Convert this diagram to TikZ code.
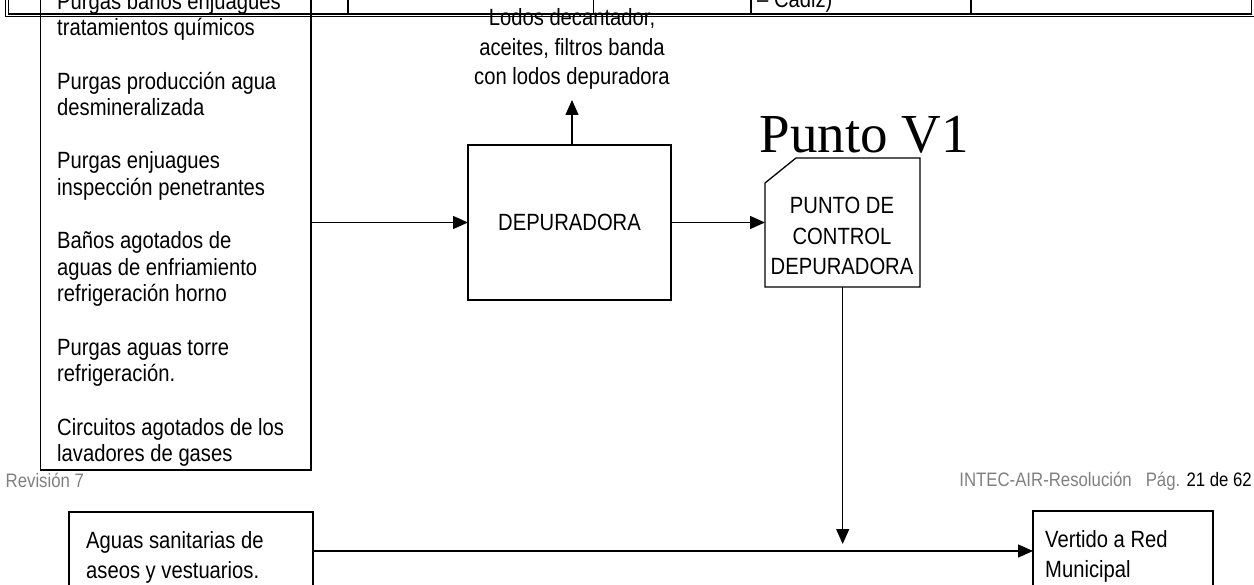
\documentclass[tikz,border=0pt]{standalone}
\usepackage{fontspec}
\setmainfont[FakeStretch=0.86]{Liberation Sans}
\newfontfamily\serifbig{Liberation Serif}
\usetikzlibrary{arrows.meta}
\definecolor{footgray}{RGB}{128,128,128}
\tikzset{
  boxline/.style={draw=black, line width=1.3pt},
  tableline/.style={line width=1.5pt},
  conn/.style={line width=1.3pt, -{Triangle[length=15pt,width=13pt]}},
  txt/.style={inner sep=0pt, font=\fontsize{23.5}{30}\selectfont},
  foot/.style={inner sep=0pt, font=\fontsize{19.5}{24}\selectfont, text=footgray},
  frame/.style={rectangle, inner sep=0pt, outer sep=0pt},
}
\begin{document}
\begin{tikzpicture}[x=1pt,y=-1pt]
\useasboundingbox (0,0) rectangle (1254,585);

% table fragment at top
\draw[tableline] (5.3,-5) -- (5.3,16.5) -- (1260,16.5);
\draw[tableline] (8.3,-5) -- (8.3,13.9) -- (1251.7,13.9) -- (1251.7,-5);
\foreach \cx in {348,593.5,751,971} \draw[tableline] (\cx,-5) -- (\cx,13.9);
\node[txt, anchor=base west] (cadiz) at (757,8) {– Cadiz)};

% left source box
\node[frame, boxline, minimum width=270.3pt, minimum height=480pt] (src) at (175.85,230) {};
\foreach \t/\k [count=\i] in {Purgas baños enjuagues/0, tratamientos químicos/1, Purgas producción agua/3, desmineralizada/4, Purgas enjuagues/6, inspección penetrantes/7, Baños agotados de/9, aguas de enfriamiento/10, refrigeración horno/11, Purgas aguas torre/13, refrigeración./14, Circuitos agotados de los/16, lavadores de gases/17}
  \node[txt, anchor=base west] (L\i) at (57,{9.4+26.6*\k}) {\t};

% depuradora
\node[frame, boxline, txt, minimum width=203pt, minimum height=155pt] (dep) at (569.5,222.5) {DEPURADORA};

% sludge label
\node[txt, anchor=base] (lo1) at (572,26) {Lodos decantador,};
\node[txt, anchor=base] (lo2) at (572,55.5) {aceites, filtros banda};
\node[txt, anchor=base] (lo3) at (572,85) {con lodos depuradora};
\coordinate (lodtip) at (572,100);

% punto de control
\node[frame, minimum width=155pt, minimum height=129pt] (punto) at (842.5,222.5) {};
\draw[boxline] (punto.south west) -- ([yshift=-25pt]punto.north west) -- ([xshift=31pt]punto.north west) -- (punto.north east) -- (punto.south east) -- cycle;
\node[txt, anchor=base] (p1) at (842,214) {PUNTO DE};
\node[txt, anchor=base] (p2) at (842,244.5) {CONTROL};
\node[txt, anchor=base] (p3) at (842,275) {DEPURADORA};
\node[inner sep=0pt, anchor=base, font=\serifbig\fontsize{55}{60}\selectfont] (pv1) at (864.5,153) {Punto V1};

% bottom boxes
\node[frame, boxline, minimum width=244pt, minimum height=130pt] (agua) at (191,577) {};
\node[txt, anchor=base west] (a1) at (86,548) {Aguas sanitarias de};
\node[txt, anchor=base west] (a2) at (86,578) {aseos y vestuarios.};
\node[frame, boxline, minimum width=180pt, minimum height=130pt] (vert) at (1123,576) {};
\node[txt, anchor=base west] (vt1) at (1045,547) {Vertido a Red};
\node[txt, anchor=base west] (vt2) at (1045,577) {Municipal};
\coordinate (drop) at (842.7,544);

% connectors
\draw[conn] (src.east |- dep.west) -- (dep.west);
\draw[conn] (dep.north -| lodtip) -- (lodtip);
\draw[conn] (dep.east) -- (punto.west |- dep.east);
\draw[conn] (punto.south -| drop) -- (drop);
\draw[conn] (agua.east |- 0,551) -- (vert.west |- 0,551);

% footer
\node[foot, anchor=base west] (rev) at (5.5,487) {Revisión 7};
\node[foot, anchor=base east] (pag) at (1252,486.5) {INTEC-AIR-Resolución\hspace{14pt}Pág. \textcolor{black}{21 de 62}};
\end{tikzpicture}
\end{document}
